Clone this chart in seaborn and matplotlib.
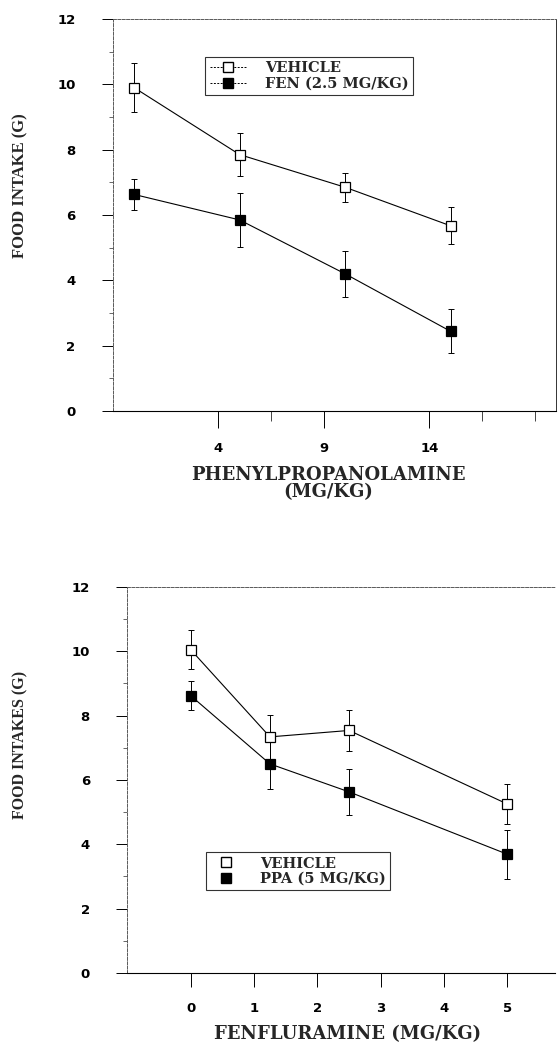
import numpy as np
import pandas as pd
import matplotlib
matplotlib.use("Agg")
import matplotlib.pyplot as plt
import seaborn as sns
from matplotlib.lines import Line2D
from matplotlib.ticker import FixedLocator

# ---------------- data ----------------
# Top panel: phenylpropanolamine dose
ppa_dose = [0, 5, 10, 15]
top_vehicle = [9.9, 7.85, 6.85, 5.67]
top_vehicle_err = [0.75, 0.67, 0.45, 0.57]
top_fen = [6.63, 5.85, 4.2, 2.44]
top_fen_err = [0.47, 0.82, 0.71, 0.67]
top_labels = ["VEHICLE", "FEN (2.5 MG/KG)"]
top_xticks = [4, 9, 14]
top_xminor = [6.5, 16.5, 19]

# Bottom panel: fenfluramine dose
fen_dose = [0, 1.25, 2.5, 5]
bot_vehicle = [10.05, 7.34, 7.54, 5.25]
bot_vehicle_err = [0.6, 0.69, 0.65, 0.63]
bot_ppa = [8.62, 6.5, 5.63, 3.69]
bot_ppa_err = [0.45, 0.78, 0.72, 0.77]
bot_labels = ["VEHICLE", "PPA (5 MG/KG)"]
bot_xticks = [0, 1, 2, 3, 4, 5]

yticks = [0, 2, 4, 6, 8, 10, 12]
yminor = [1, 3, 5, 7, 9, 11]

sns.set_theme(style="white")
plt.rcParams["font.family"] = ["DejaVu Sans"]

SERIF = "DejaVu Serif"
TSERIF = "Liberation Serif"
SANS = "DejaVu Sans"

fig = plt.figure(figsize=(5.58, 10.45), dpi=100)
fig.patch.set_facecolor("white")


def style_ticklabels(ax):
    for lab in ax.get_yticklabels() + ax.get_xticklabels():
        lab.set_fontfamily(SANS)
        lab.set_fontweight("bold")
        lab.set_fontsize(9.5)


def draw_panel(ax, x, y1, e1, y2, e2, labels):
    df = pd.DataFrame({
        "dose": list(x) + list(x),
        "intake": list(y1) + list(y2),
        "group": [labels[0]] * len(x) + [labels[1]] * len(x),
    })
    sns.lineplot(data=df, x="dose", y="intake", hue="group", style="group",
                 hue_order=labels, style_order=labels,
                 markers={labels[0]: "s", labels[1]: "s"}, dashes=False,
                 palette={labels[0]: "black", labels[1]: "black"},
                 markersize=7.5, markeredgecolor="black", markeredgewidth=0.9,
                 linewidth=0.8, errorbar=None, legend=False, ax=ax, zorder=3)
    ax.lines[0].set_markerfacecolor("white")
    ax.lines[1].set_markerfacecolor("black")
    ax.errorbar(x, y1, yerr=e1, fmt="none", ecolor="black", elinewidth=0.7,
                capsize=2, capthick=0.7, zorder=2)
    ax.errorbar(x, y2, yerr=e2, fmt="none", ecolor="black", elinewidth=0.7,
                capsize=2, capthick=0.7, zorder=2)
    ax.set_ylim(0, 12)
    ax.yaxis.set_major_locator(FixedLocator(yticks))
    ax.yaxis.set_minor_locator(FixedLocator(yminor))
    ax.set_yticklabels([str(t) for t in yticks])
    ax.tick_params(axis="y", which="major", direction="out", length=8,
                   width=0.7, pad=19, colors="black", left=True)
    ax.tick_params(axis="y", which="minor", direction="out", length=3,
                   width=0.6, left=True, colors="0.3")
    ax.set_facecolor("white")
    for s in ["left", "top"]:
        ax.spines[s].set_linestyle((0, (3, 1.5)))
        ax.spines[s].set_linewidth(0.7)
        ax.spines[s].set_color("0.35")
    ax.spines["bottom"].set_linewidth(0.8)
    ax.spines["bottom"].set_color("black")


# ---------------- top panel ----------------
ax1 = fig.add_axes([0.2025, 0.6067, 0.794, 0.3751])
draw_panel(ax1, ppa_dose, top_vehicle, top_vehicle_err, top_fen, top_fen_err, top_labels)
ax1.set_xlim(-1, 20)
ax1.xaxis.set_major_locator(FixedLocator(top_xticks))
ax1.xaxis.set_minor_locator(FixedLocator(top_xminor))
ax1.set_xticklabels([str(t) for t in top_xticks])
ax1.tick_params(axis="x", which="major", direction="out", length=12, width=0.7,
                pad=10, colors="black", bottom=True)
ax1.tick_params(axis="x", which="minor", direction="out", length=7, width=0.6, bottom=True)
style_ticklabels(ax1)
ax1.spines["right"].set_linewidth(0.7)
ax1.spines["right"].set_color("0.2")
ax1.set_xlabel("PHENYLPROPANOLAMINE\n(MG/KG)", fontfamily=SERIF, fontweight="bold",
               fontsize=13, linespacing=0.95)
ax1.xaxis.set_label_coords(0.485, -0.14)
ax1.set_ylabel("FOOD INTAKE (G)", fontfamily=TSERIF, fontweight="bold", fontsize=12)
ax1.yaxis.set_label_coords(-0.19, 0.574)

h1 = [Line2D([], [], color="black", lw=0.7, ls=(0, (2, 1.5)), marker="s", markersize=6.5,
             markerfacecolor="white", markeredgecolor="black"),
      Line2D([], [], color="black", lw=0.7, ls=(0, (2, 1.5)), marker="s", markersize=6.5,
             markerfacecolor="black", markeredgecolor="black")]
leg1 = ax1.legend(h1, top_labels, loc="upper left", bbox_to_anchor=(0.208, 0.903),
                  borderaxespad=0, frameon=True, fancybox=False, edgecolor="black",
                  handlelength=2.6, borderpad=0.3, labelspacing=0.1, handletextpad=1.2,
                  prop={"family": SERIF, "weight": "bold", "size": 10.5})
leg1.get_frame().set_linewidth(0.8)

# ---------------- bottom panel ----------------
ax2 = fig.add_axes([0.2283, 0.0689, 0.7663, 0.3694])
draw_panel(ax2, fen_dose, bot_vehicle, bot_vehicle_err, bot_ppa, bot_ppa_err, bot_labels)
ax2.set_xlim(-1, 5.75)
ax2.xaxis.set_major_locator(FixedLocator(bot_xticks))
ax2.set_xticklabels([str(t) for t in bot_xticks])
ax2.tick_params(axis="x", which="major", direction="out", length=10, width=0.7,
                pad=11, colors="black", bottom=True)
style_ticklabels(ax2)
ax2.spines["right"].set_visible(False)
ax2.set_xlabel("FENFLURAMINE (MG/KG)", fontfamily=SERIF, fontweight="bold", fontsize=13)
ax2.xaxis.set_label_coords(0.515, -0.135)
ax2.set_ylabel("FOOD INTAKES (G)", fontfamily=TSERIF, fontweight="bold", fontsize=11.5)
ax2.yaxis.set_label_coords(-0.232, 0.59)

h2 = [Line2D([], [], color="black", lw=0, marker="s", markersize=6.5,
             markerfacecolor="white", markeredgecolor="black"),
      Line2D([], [], color="black", lw=0, marker="s", markersize=6.5,
             markerfacecolor="black", markeredgecolor="black")]
leg2 = ax2.legend(h2, bot_labels, loc="upper left", bbox_to_anchor=(0.184, 0.313),
                  borderaxespad=0, frameon=True, fancybox=False, edgecolor="black",
                  handlelength=2.2, borderpad=0.3, labelspacing=0.1, handletextpad=1.2,
                  prop={"family": SERIF, "weight": "bold", "size": 10.5})
leg2.get_frame().set_linewidth(0.8)

fig.savefig("out.png", dpi=100, facecolor="white")
